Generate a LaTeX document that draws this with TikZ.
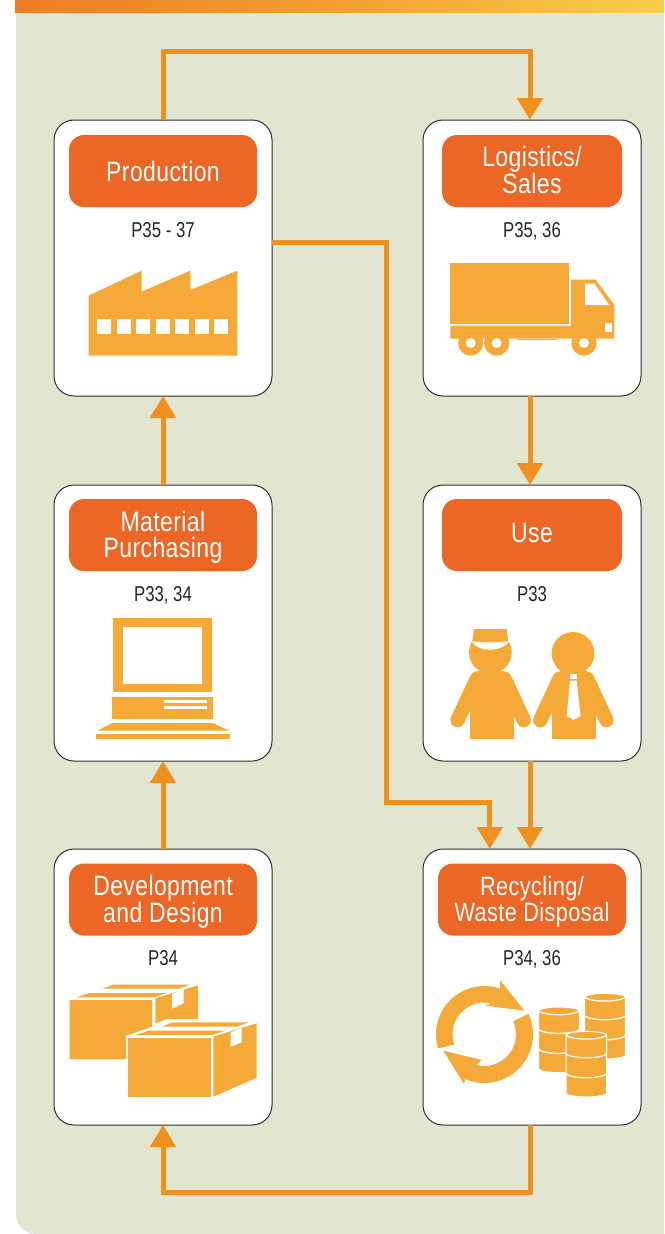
\documentclass[tikz,border=0pt]{standalone}
\usepackage{fontspec}
\setmainfont{Liberation Sans}
\newfontfamily\narrowhead[FakeStretch=0.82,LetterSpace=1.5]{Liberation Sans}
\newfontfamily\narrowpage[FakeStretch=0.78]{Liberation Sans}
\usetikzlibrary{arrows.meta}
\definecolor{bgc}{HTML}{E2E5CF}
\definecolor{hdrc}{HTML}{EC6726}
\definecolor{iconc}{HTML}{F5A939}
\definecolor{linkc}{HTML}{F0901F}
\definecolor{edgec}{HTML}{2E2E2E}
\definecolor{barl}{HTML}{EE7C25}
\definecolor{barm}{HTML}{F3A02E}
\definecolor{barr}{HTML}{F7CE4C}
\tikzset{
  card/.style={draw=edgec,fill=white,line width=1pt,rounded corners=20pt,minimum width=218pt,minimum height=276pt,outer sep=0pt,inner sep=0pt},
  hdr/.style={fill=hdrc,rounded corners=15pt,minimum height=72pt,text=white,align=center,inner sep=0pt,outer sep=0pt,font=\narrowhead\fontsize{28}{26}\selectfont},
  hdrsmall/.style={hdr,font=\narrowhead\fontsize{26.5}{26}\selectfont},
  pagetxt/.style={text=black!85,inner sep=0pt,text height=15pt,text depth=4pt,font=\narrowpage\fontsize{21.5}{24}\selectfont},
  link/.style={draw=linkc,line width=5pt,-{Triangle[width=25pt,length=22pt,fill=linkc]}},
  zoomed/.style={x=0.33333pt,y=-0.33333pt},
  ic/.style={fill=iconc},
  wh/.style={fill=white},
  whl/.style={draw=white,line width=1.3pt}
}
\newcommand{\barrelicon}[2]{%
  \begin{scope}[shift={(#1,#2)}]
    \path[ic,draw=white,line width=1pt] (-61,10) .. controls (-45,-3) and (45,-3) .. (61,10) -- (61,187) .. controls (45,200) and (-45,200) .. (-61,187) -- cycle;
    \draw[whl] (-61,12) .. controls (-40,27) and (40,27) .. (61,12);
    \draw[whl] (-61,68) .. controls (-40,83) and (40,83) .. (61,68);
    \draw[whl] (-61,128) .. controls (-40,143) and (40,143) .. (61,128);
  \end{scope}}
\begin{document}
\begin{tikzpicture}[x=1pt,y=-1pt]
\useasboundingbox (0,0) rectangle (664,1234);
\fill[white] (0,0) rectangle (664,1234);
\fill[bgc] (16,12) -- (664,12) -- (664,1234) -- (36,1234) arc[start angle=90,end angle=180,radius=20] -- cycle;
\shade[left color=barl,right color=barr,middle color=barm] (15,0) rectangle (664,12);

% cards
\node[card] (prod) at (163,258) {};
\node[card] (logi) at (532,258) {};
\node[card] (matl) at (163,623) {};
\node[card] (usex) at (532,623) {};
\node[card] (devd) at (163,987) {};
\node[card] (recy) at (532,987) {};

% headers
\node[hdr,minimum width=188pt] (prodh) at (163,171) {Production};
\node[hdr,minimum width=180pt] (logih) at (532,171) {Logistics/\\Sales\rule[-2.5pt]{0pt}{1pt}};
\node[hdr,minimum width=188pt] (matlh) at (163,535) {\rule{0pt}{24.4pt}Material\\Purchasing};
\node[hdr,minimum width=180pt] (useh) at (532,535) {Use\rule[-4.3pt]{0pt}{1pt}};
\node[hdr,minimum width=188pt] (devdh) at (163,899.5) {\rule{0pt}{24.4pt}Development\\and Design};
\node[hdrsmall,minimum width=188pt] (recyh) at (532,899.5) {\rule{0pt}{23.3pt}Recycling/\\Waste Disposal};

% page references
\node[pagetxt] (prodp) at (163,231.5) {P35 - 37};
\node[pagetxt] (logip) at (532,231.5) {P35, 36};
\node[pagetxt] (matlp) at (163,595.5) {P33, 34};
\node[pagetxt] (usep) at (532,595.5) {P33};
\node[pagetxt] (devdp) at (163,960) {P34};
\node[pagetxt] (recyp) at (532,960) {P34, 36};

% connectors
\coordinate (topbend) at (530,51);
\coordinate (midbend) at (386,802);
\coordinate (botbend) at (163,1192);
\draw[link] (prod.north) |- (topbend) -- (logi.north -| topbend);
\draw[link] (logi.south -| topbend) -- (usex.north -| topbend);
\draw[link] (usex.south -| topbend) -- (recy.north -| topbend);
\draw[link] (prod.8.35) -| (midbend) -| (recy.107.3);
\draw[link] (recy.south -| topbend) |- (botbend) -- (devd.south);
\draw[link] (devd.north) -- (matl.south);
\draw[link] (matl.north) -- (prod.south);

% factory
\begin{scope}[shift={(50,115)},zoomed]
  \fill[ic] (116,542) -- (275,467) -- (275,530) -- (421,467) -- (421,525) -- (562,467) -- (562,722) -- (116,722) -- cycle;
  \foreach \wx in {142,200.5,259,317.5,376,434.5,493}
    \fill[wh] (\wx,611) rectangle ++(41,47);
\end{scope}

% truck
\begin{scope}[shift={(420,115)},zoomed]
  \fill[ic] (91,444) rectangle (446,627);
  \fill[ic] (91,632) -- (453,632) -- (453,494) -- (527,494) -- (583,570) -- (583,671) -- (91,671) -- cycle;
  \fill[ic] (292,671) rectangle (410,675);
  \fill[wh] (495,506) -- (523,506) -- (568,570) -- (495,570) -- cycle;
  \fill[wh] (556,623) rectangle (575,651);
  \foreach \wx in {152,230,492} {
    \fill[ic] (\wx,684) circle[radius=38];
    \fill[wh] (\wx,684) circle[radius=15];
  }
\end{scope}

% computer
\begin{scope}[shift={(50,480)},zoomed]
  \fill[ic] (190,414) rectangle (485,636);
  \fill[wh] (220,441) rectangle (455,612);
  \fill[ic] (187,651) rectangle (488,717);
  \fill[wh] (341,661) rectangle (471,669);
  \fill[wh] (341,678) rectangle (471,686);
  \fill[ic] (143,752) -- (187,729) -- (488,729) -- (538,752) -- cycle;
  \fill[ic] (139,762) rectangle (539,777);
\end{scope}

% people
\begin{scope}[shift={(420,480)},zoomed]
  \foreach \px in {0,248} {
    \begin{scope}[shift={(\px,0)}]
      \fill[ic] (149,600) rectangle (281,777);
      \draw[iconc,line width=14.5pt,line cap=round] (171,596) -- (113,720);
      \draw[iconc,line width=14.5pt,line cap=round] (253,596) -- (311,720);
      \fill[ic] (171,574) rectangle (253,620);
    \end{scope}
  }
  \fill[ic] (211,517) circle[radius=64];
  \path[wh] (155,484) .. controls (175,518) and (245,518) .. (267,484) -- cycle;
  \fill[ic] (162,447) -- (260,447) -- (264,482) .. controls (230,489) and (190,489) .. (157,482) -- cycle;
  \fill[ic] (459,520) circle[radius=64];
  \fill[wh] (449,583) rectangle (471,597);
  \fill[wh] (450,602) -- (470,602) -- (482,708) -- (461,720) -- (440,708) -- cycle;
\end{scope}

% boxes
\begin{scope}[shift={(50,845)},zoomed]
  \fill[ic] (59,465) -- (306,465) -- (306,545) -- (228,572) -- (228,643) -- (59,643) -- cycle;
  \fill[ic] (316,460) -- (444,421) -- (444,522) -- (350,522) -- (316,535) -- cycle;
  \fill[wh] (366,447) -- (401,432) -- (401,475) -- (366,491) -- cycle;
  \fill[ic] (80,457) -- (118,444) -- (350,444) -- (312,457) -- cycle;
  \fill[ic] (157,431) -- (190,419) -- (420,419) -- (385,431) -- cycle;
  \fill[ic] (234,578) rectangle (482,757);
  \fill[ic] (490,575) -- (620,535) -- (620,698) -- (490,755) -- cycle;
  \fill[wh] (542,562) -- (575,549) -- (575,592) -- (542,605) -- cycle;
  \fill[ic] (258,570) -- (295,557) -- (527,557) -- (487,570) -- cycle;
  \fill[ic] (335,545) -- (368,532) -- (597,532) -- (560,545) -- cycle;
\end{scope}

% recycling
\begin{scope}[shift={(420,845)},zoomed]
  \fill[ic] (193,568) ++(163:145) arc[start angle=163,end angle=289,radius=145]
     -- (240,405) -- (313,497) -- (197,482) -- (214,475)
     arc[start angle=283,end angle=161,radius=95] -- cycle;
  \fill[ic] (193,568) ++(-25:146) arc[start angle=-25,end angle=113,radius=146]
     -- (132,717) -- (70,617) -- (185,645) -- (170,660)
     arc[start angle=104,end angle=-24,radius=95] -- cycle;
  \barrelicon{555}{445}
  \barrelicon{417}{486}
  \barrelicon{499}{559}
\end{scope}
\end{tikzpicture}
\end{document}
